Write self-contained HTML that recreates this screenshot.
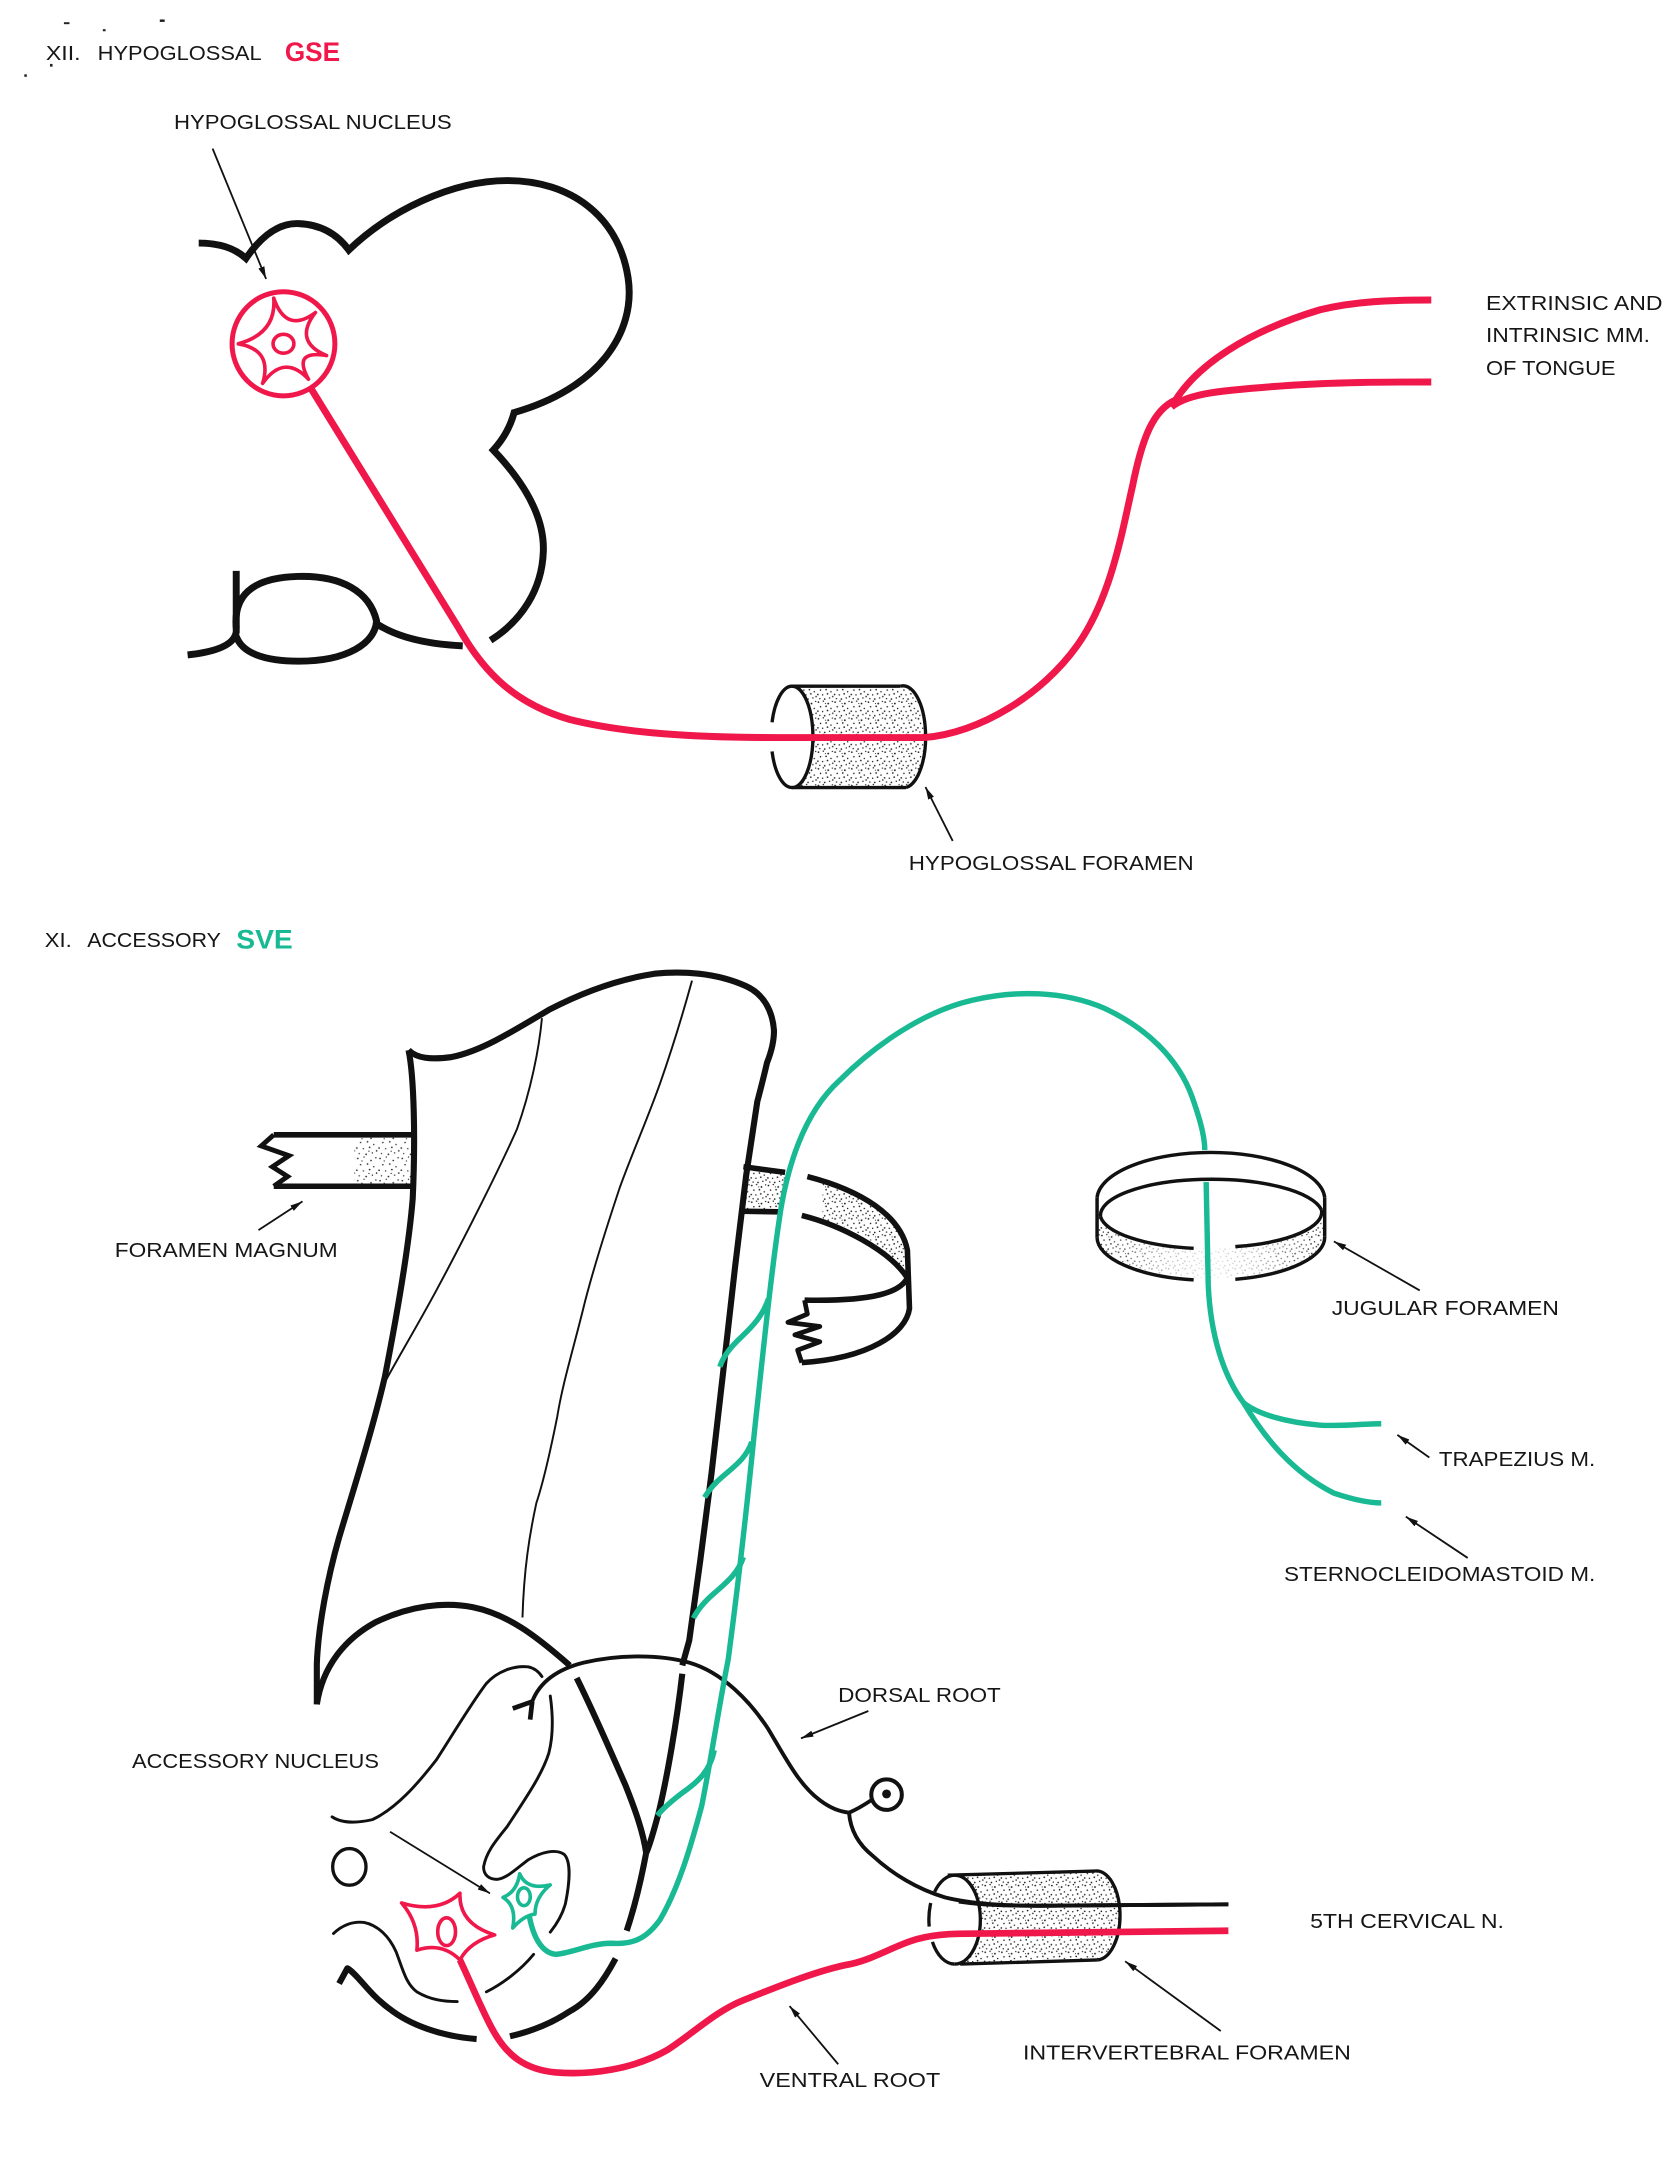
<!DOCTYPE html>
<html>
<head>
<meta charset="utf-8">
<style>
html,body{margin:0;padding:0;background:#ffffff;}
svg{display:block;}
text{font-family:"Liberation Sans",Arial,sans-serif;fill:#161616;}
</style>
</head>
<body>
<svg xmlns="http://www.w3.org/2000/svg" width="1680" height="2178" viewBox="0 0 1209 1568" preserveAspectRatio="none">
<defs>
<pattern id="st" width="16" height="16" patternUnits="userSpaceOnUse">
<g fill="#222">
<circle cx="1.5" cy="2" r="0.6"/><circle cx="6" cy="1" r="0.5"/><circle cx="11" cy="3.5" r="0.6"/>
<circle cx="14.5" cy="1.5" r="0.5"/><circle cx="3.5" cy="6.5" r="0.55"/><circle cx="8.5" cy="6" r="0.6"/>
<circle cx="13" cy="8" r="0.5"/><circle cx="0.8" cy="10.5" r="0.6"/><circle cx="5.5" cy="11" r="0.5"/>
<circle cx="10" cy="10" r="0.6"/><circle cx="15" cy="12.5" r="0.55"/><circle cx="2.5" cy="14.5" r="0.5"/>
<circle cx="7.5" cy="15" r="0.6"/><circle cx="12" cy="14" r="0.5"/><circle cx="9.5" cy="12.8" r="0.45"/>
<circle cx="4.5" cy="3.8" r="0.45"/>
</g>
</pattern>
<pattern id="st2" width="12" height="12" patternUnits="userSpaceOnUse">
<g fill="#1a1a1a">
<circle cx="1" cy="1.5" r="0.6"/><circle cx="4.5" cy="0.8" r="0.5"/><circle cx="8" cy="2.5" r="0.65"/>
<circle cx="11" cy="1" r="0.5"/><circle cx="2.5" cy="4.8" r="0.55"/><circle cx="6.5" cy="4.5" r="0.6"/>
<circle cx="10" cy="6" r="0.55"/><circle cx="0.6" cy="8" r="0.6"/><circle cx="4" cy="8.3" r="0.5"/>
<circle cx="7.5" cy="7.5" r="0.6"/><circle cx="11.3" cy="9.5" r="0.55"/><circle cx="2" cy="11" r="0.5"/>
<circle cx="5.5" cy="11.3" r="0.6"/><circle cx="9" cy="10.5" r="0.5"/><circle cx="6" cy="2.5" r="0.4"/>
</g>
</pattern>
<linearGradient id="endsH" x1="0" y1="0" x2="1" y2="0">
<stop offset="0" stop-color="#fff"/><stop offset="0.3" stop-color="#555"/><stop offset="0.5" stop-color="#222"/><stop offset="0.7" stop-color="#555"/><stop offset="1" stop-color="#fff"/>
</linearGradient>
<mask id="ringMask" maskContentUnits="objectBoundingBox">
<rect x="0" y="0" width="1" height="1" fill="url(#endsH)"/>
</mask>
<marker id="ah" markerWidth="10" markerHeight="6" refX="9" refY="2.3" orient="auto" markerUnits="userSpaceOnUse">
<path d="M0,0 L9,2.3 L0,4.6 Z" fill="#111"/>
</marker>
</defs>

<!-- ===== scan specks ===== -->
<g fill="#222">
<rect x="46" y="16" width="4" height="1.4"/>
<rect x="74" y="21" width="2" height="1.5"/>
<rect x="115" y="14" width="3.5" height="1.8"/>
<rect x="36" y="46" width="1.8" height="2"/>
<rect x="17.5" y="53.5" width="1.8" height="1.8"/>
</g>

<!-- ===== TOP HEADINGS ===== -->
<text x="33" y="43.2" font-size="14.6" textLength="25" lengthAdjust="spacingAndGlyphs">XII.</text>
<text x="70.3" y="43.2" font-size="14.6" textLength="118" lengthAdjust="spacingAndGlyphs">HYPOGLOSSAL</text>
<text x="205" y="44" font-size="19" font-weight="bold" style="fill:#f0184a" textLength="39.7" lengthAdjust="spacingAndGlyphs">GSE</text>
<text x="125.2" y="92.9" font-size="14.6" textLength="199.8" lengthAdjust="spacingAndGlyphs">HYPOGLOSSAL NUCLEUS</text>
<line x1="153" y1="107" x2="191.5" y2="200.8" stroke="#111" stroke-width="1.3" marker-end="url(#ah)"/>

<!-- medulla outline -->
<g fill="none" stroke="#111" stroke-width="5" stroke-linecap="butt" stroke-linejoin="miter">
<path d="M143,175 Q165,175 177,186 Q195,160 215,161 Q238,162 251,180 C280,152 325,130 365,130 C410,130 445,155 452,200 C458,240 430,280 370,297 Q366,312 355,324 C375,345 392,370 391,397 C390,425 375,447 353,461"/>
<path d="M170,411 L170,455 Q168,468 135,471.5"/>
<path d="M170,452 C168,430 180,416 214,415 C246,414 266,426 271,447 C270,463 250,476 215,476 C190,476 174,470 170,458"/>
<path d="M271,449 Q292,463 333,465"/>
</g>

<!-- hypoglossal nucleus -->
<g fill="none" stroke="#f0184a" stroke-linecap="round">
<ellipse cx="204" cy="247.5" rx="37" ry="37.5" stroke-width="3.6"/>
<ellipse cx="204" cy="247.5" rx="7.5" ry="6.8" stroke-width="2.6"/>
<path stroke-width="2.6" d="M197,214.7 Q206,240.6 227,225 M227,225 Q210.8,245.8 235,256 M235,256 Q210.1,251.8 222,273 M222,273 Q204.4,254.3 189,276 M189,276 Q196.4,251.9 171.5,247.5 M171.5,247.5 Q199,240 197,214.7"/>
</g>

<!-- hypoglossal foramen cylinder -->
<path d="M570,494 L648,494 A16,36.5 0 0 1 652,567 L570,567 A15,36.5 0 0 0 570,494 Z" fill="url(#st2)"/>
<g fill="none" stroke="#111" stroke-width="2.4">
<path d="M570,494 L648,494"/>
<path d="M570,567 L652,567"/>
<path d="M570,494 A15,36.5 0 0 1 570,567"/>
<path d="M570,494 A15,36.5 0 0 0 555.6,520"/>
<path d="M555.6,541 A15,36.5 0 0 0 570,567"/>
<path d="M648,494 A16,36.5 0 0 1 652,567"/>
</g>

<!-- hypoglossal nerve -->
<g fill="none" stroke="#f0184a" stroke-width="5" stroke-linecap="butt" stroke-linejoin="round">
<path d="M224,280 L330,452 C345,478 365,505 410,518 C450,528 500,531 560,531 L665,531 C705,528 750,500 775,465 C800,430 808,380 815,350 C822,315 830,295 846,288"/>
<path d="M843,293 C860,262 900,238 950,223 C975,217 1000,216 1030,216"/>
<path d="M843,293 C855,283 880,281 920,278 C960,275 1000,275 1030,275"/>
</g>

<text x="1069.4" y="223.2" font-size="14.6" textLength="127" lengthAdjust="spacingAndGlyphs">EXTRINSIC AND</text>
<text x="1069.4" y="246.3" font-size="14.6" textLength="118" lengthAdjust="spacingAndGlyphs">INTRINSIC MM.</text>
<text x="1069.4" y="270" font-size="14.6" textLength="93.2" lengthAdjust="spacingAndGlyphs">OF TONGUE</text>
<text x="654" y="626.3" font-size="14.6" textLength="205" lengthAdjust="spacingAndGlyphs">HYPOGLOSSAL FORAMEN</text>
<line x1="685.6" y1="605.4" x2="666" y2="566.6" stroke="#111" stroke-width="1.3" marker-end="url(#ah)"/>

<!-- ===== BOTTOM SECTION ===== -->
<text x="32.2" y="681.8" font-size="14.6" textLength="19.4" lengthAdjust="spacingAndGlyphs">XI.</text>
<text x="62.8" y="681.8" font-size="14.6" textLength="96.2" lengthAdjust="spacingAndGlyphs">ACCESSORY</text>
<text x="170" y="682.8" font-size="19.5" font-weight="bold" style="fill:#19b993" textLength="40.7" lengthAdjust="spacingAndGlyphs">SVE</text>

<!-- foramen magnum left band -->
<rect x="255" y="818" width="41" height="35" fill="url(#st)"/>
<g fill="none" stroke="#111" stroke-width="4" stroke-linejoin="miter">
<path d="M197,817 L297,817"/>
<path d="M197,854 L297,854"/>
<path d="M197,817 L188,825 L208,832 L196,840 L207,847 L197,854" stroke-width="3.5"/>
</g>

<!-- right band -->
<path d="M537,841 L565,844 L562,872 L535,872 Z" fill="url(#st2)"/>
<path d="M592,851 C625,860 648,877 653,900 L653,920 C640,900 620,885 592,878 Z" fill="url(#st2)"/>
<g fill="none" stroke="#111" stroke-width="4" stroke-linejoin="round">
<path d="M535,840 L565,844"/>
<path d="M581,847 C620,857 648,875 653,900 L654.5,942 C652,960 625,978 577,981"/>
<path d="M533,872 L560,872.4"/>
<path d="M577,875 C605,882 640,900 653,920 C648,930 630,937 579,936"/>
<path d="M579,936 L581,946 L567,952 L590,955 L572,961 L590,966 L574,972 L577,981" stroke-width="3.4"/>
</g>

<!-- tube outline -->
<g fill="none" stroke="#111" stroke-width="4.4" stroke-linejoin="round" stroke-linecap="butt">
<path d="M294,756 C300,762 310,763 325,761 C345,757 365,745 395,727 C420,714 445,705 471,701 C490,699 515,700 537,710 C550,716 556,728 557,742 C557,752 554,760 552,765 Q549,778 545,793 L537,846 L529,912 L520.5,987 L512,1061 L504,1123 L496,1181 L491,1199"/>
<path d="M294,756 C298,775 299,820 297,863 C294,900 285,950 277,991 C268,1030 252,1080 244,1107 C236,1135 229,1170 228,1198 L228,1227"/>
<path d="M228,1227 C232,1200 248,1180 270,1168 C295,1156 320,1153 340,1157 C365,1162 385,1177 410,1199"/>
<path d="M415,1208 C425,1228 440,1262 450,1285 C458,1305 463,1320 465,1334"/>
<path d="M491,1205 C487,1240 480,1280 474,1305 C470,1320 467,1330 465,1334 C462,1350 457,1372 451,1390"/>
<path d="M443,1410 C435,1425 425,1440 410,1448 C395,1458 380,1463 367,1466"/>
<path d="M244,1428 L250,1417 C258,1422 265,1435 280,1446 C295,1458 318,1466 343,1468"/>
</g>
<g fill="none" stroke="#111" stroke-width="1.4">
<path d="M390,733 C388,755 382,785 372,813 C360,840 335,890 314,929 C300,955 285,980 277,995"/>
<path d="M498,706 C490,735 482,760 475,780 C465,808 455,830 446,855 C436,885 428,910 421,937 C413,970 405,995 401,1020 C395,1050 390,1070 386,1082 C381,1105 377,1130 376,1164.5"/>
</g>
<g fill="none" stroke="#111" stroke-width="2.1" stroke-linecap="round">
<path d="M239,1308 C245,1312 255,1313 268,1310 C285,1302 300,1285 314,1267 C325,1250 340,1225 350,1212 C358,1203 370,1199 380,1200 C385,1201 388,1204 390,1207"/>
<path d="M396,1221 C398,1235 398,1250 395,1262 C390,1278 378,1295 365,1315 C357,1325 350,1333 348,1344 C348,1350 352,1353 358,1353 C365,1352 372,1345 380,1339 C390,1333 400,1331 406,1335 C411,1340 410,1355 407,1370 C405,1378 400,1386 396,1391"/>
<path d="M240,1392 C246,1386 254,1383 262,1384 C272,1386 280,1394 285,1405 C290,1418 292,1428 300,1434 C310,1440 320,1441 329,1441"/>
<path d="M350,1434 C362,1428 375,1418 384,1407"/>
<ellipse cx="251.4" cy="1344" rx="12" ry="13.2" stroke-width="2.4"/>
</g>

<!-- dorsal root -->
<g fill="none" stroke="#111" stroke-width="2.8" stroke-linecap="butt" stroke-linejoin="round">
<path d="M383,1225 C388,1212 400,1202 420,1197 C445,1191 475,1191 496,1197 C520,1204 540,1225 553,1245 C565,1265 575,1285 590,1296 C598,1302 604,1304 611,1305"/>
<path d="M383,1225 L369,1230" stroke-width="3.4"/>
<path d="M383,1225 L381.5,1238" stroke-width="3.4"/>
<path d="M611,1305 Q618,1302 627,1296"/>
<path d="M611,1305 C612,1318 618,1328 628,1336 C642,1349 660,1360 680,1366 C700,1371 725,1372 750,1372 L884,1371"/>
<circle cx="638" cy="1292" r="11" stroke-width="2.9"/>
</g>
<circle cx="638" cy="1291.5" r="3.2" fill="#111"/>

<!-- intervertebral foramen -->
<path d="M687,1350 L788,1347 A17,32 0 0 1 790,1411 L687,1414 A18.5,32 0 0 0 687,1350 Z" fill="url(#st2)"/>
<g fill="none" stroke="#111" stroke-width="2.4">
<path d="M682,1350 L788,1347"/>
<path d="M691,1414 L790,1411"/>
<path d="M687,1350 A18.5,32 0 0 1 687,1414"/>
<path d="M687,1350 A18.5,32 0 0 0 672.6,1362"/>
<path d="M669.8,1370 A18.5,32 0 0 0 668.7,1387"/>
<path d="M671,1398 A18.5,32 0 0 0 687,1414"/>
<path d="M788,1347 A17,32 0 0 1 790,1411"/>
</g>
<path d="M690,1369 C710,1372 730,1372 750,1372 L884,1371" fill="none" stroke="#111" stroke-width="2.8"/>

<!-- jugular foramen ring -->
<path d="M789.5,876 L789.5,891 A82,31 0 0 0 953.3,890 L953.3,870 A79.5,25.5 0 0 1 792,876 Z" fill="url(#st2)" mask="url(#ringMask)"/>
<g fill="none" stroke="#111" stroke-width="2.5">
<path d="M789.5,862 A82,34 0 0 1 953.3,862"/>
<path d="M792,876 A80,26 0 0 1 951,871"/>
<path d="M792,876 A79.5,25.5 0 0 0 859,898.7"/>
<path d="M889,897.5 A79.5,25.5 0 0 0 951,871"/>
<path d="M789.5,891 A82,31 0 0 0 859,921.4"/>
<path d="M889,921 A82,31 0 0 0 953.3,890"/>
<path d="M789.5,862 L789.5,891"/>
<path d="M953.3,862 L953.3,890"/>
</g>

<!-- accessory nerve (green) -->
<g fill="none" stroke="#19b993" stroke-width="3.9" stroke-linecap="butt" stroke-linejoin="round">
<path d="M381,1380 C384,1395 390,1406 400,1407 C412,1406 425,1399 440,1399 C455,1400 465,1396 475,1382 C488,1360 497,1330 505,1300 C512,1265 518,1225 524,1195 C530,1150 537,1090 543,1030 C549,975 555,915 562,870 C568,835 580,800 604,778 C630,752 665,728 700,720 C730,713 765,713 795,726 C825,740 848,762 858,790 C865,810 867,820 867,828"/>
<path d="M868,851 L869.5,925 C871,960 880,990 895,1010 C910,1035 930,1060 960,1075 C975,1080 985,1082 994,1082"/>
<path d="M895,1010 C905,1018 925,1024 950,1026 C965,1027 980,1025 994,1025"/>
<path d="M553,935 C548,950 538,958 530,966 C524,972 520,978 518,984"/>
<path d="M541,1038 C537,1050 528,1056 520,1063 C514,1068 510,1073 507,1078"/>
<path d="M535,1121 C531,1133 522,1140 514,1147 C507,1153 502,1159 499,1165"/>
<path d="M514,1260 C511,1275 502,1283 492,1290 C484,1296 478,1301 473,1307"/>
</g>
<g fill="none" stroke="#19b993" stroke-width="2.6" stroke-linejoin="round">
<path d="M374,1349 Q379,1361 396,1357 Q385,1366 385,1378 Q377,1379 369,1388 Q372,1372 362,1366 Q372,1362 374,1349 Z"/>
<ellipse cx="377" cy="1365.5" rx="4.6" ry="6.4"/>
</g>

<!-- ventral root (red) -->
<g fill="none" stroke="#f0184a" stroke-linejoin="round">
<path d="M289,1370 Q315,1378 331,1363 Q330,1385 356,1393 Q338,1398 331,1411 Q318,1398 300,1404 Q302,1385 289,1370 Z" stroke-width="2.6"/>
<ellipse cx="321.4" cy="1390.7" rx="6.4" ry="10" stroke-width="2.6"/>
<path d="M331,1411 C340,1430 348,1450 355,1462 C365,1480 378,1490 400,1492 C425,1494 455,1490 480,1476 C500,1463 515,1448 535,1440 C560,1430 590,1418 612,1414 C630,1410 645,1400 660,1396 C675,1392 690,1392 705,1392 L884,1390" stroke-width="4.8" stroke-linecap="butt"/>
</g>

<!-- labels bottom -->
<text x="82.6" y="905" font-size="14.6" textLength="160.4" lengthAdjust="spacingAndGlyphs">FORAMEN MAGNUM</text>
<line x1="186" y1="885.6" x2="217.7" y2="864.9" stroke="#111" stroke-width="1.3" marker-end="url(#ah)"/>
<text x="958.4" y="946.8" font-size="14.6" textLength="163.4" lengthAdjust="spacingAndGlyphs">JUGULAR FORAMEN</text>
<line x1="1021.7" y1="929" x2="959.9" y2="893.7" stroke="#111" stroke-width="1.3" marker-end="url(#ah)"/>
<text x="1035.5" y="1055.4" font-size="14.6" textLength="112.5" lengthAdjust="spacingAndGlyphs">TRAPEZIUS M.</text>
<line x1="1028.6" y1="1049.3" x2="1005.6" y2="1033" stroke="#111" stroke-width="1.3" marker-end="url(#ah)"/>
<text x="924" y="1138.2" font-size="14.6" textLength="224" lengthAdjust="spacingAndGlyphs">STERNOCLEIDOMASTOID M.</text>
<line x1="1056.2" y1="1121.6" x2="1011.7" y2="1091.9" stroke="#111" stroke-width="1.3" marker-end="url(#ah)"/>
<text x="603.2" y="1225.3" font-size="14.6" textLength="117" lengthAdjust="spacingAndGlyphs">DORSAL ROOT</text>
<line x1="624.9" y1="1231.8" x2="576.4" y2="1251.5" stroke="#111" stroke-width="1.3" marker-end="url(#ah)"/>
<text x="95" y="1272.8" font-size="14.6" textLength="177.7" lengthAdjust="spacingAndGlyphs">ACCESSORY NUCLEUS</text>
<line x1="280.7" y1="1318.7" x2="352.6" y2="1363.1" stroke="#111" stroke-width="1.3" marker-end="url(#ah)"/>
<text x="942.8" y="1387.9" font-size="14.6" textLength="139.5" lengthAdjust="spacingAndGlyphs">5TH CERVICAL N.</text>
<text x="736.2" y="1482.7" font-size="14.6" textLength="235.9" lengthAdjust="spacingAndGlyphs">INTERVERTEBRAL FORAMEN</text>
<line x1="878.5" y1="1462.2" x2="809.7" y2="1412" stroke="#111" stroke-width="1.3" marker-end="url(#ah)"/>
<text x="546.7" y="1502.4" font-size="14.6" textLength="129.9" lengthAdjust="spacingAndGlyphs">VENTRAL ROOT</text>
<line x1="603.2" y1="1486.1" x2="568.2" y2="1444.2" stroke="#111" stroke-width="1.3" marker-end="url(#ah)"/>
</svg>
</body>
</html>
